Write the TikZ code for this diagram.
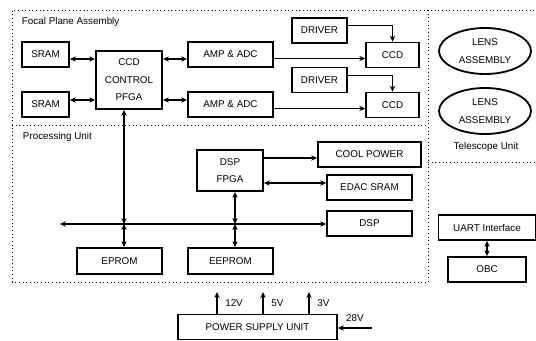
\documentclass[tikz,border=0pt]{standalone}
\usepackage{fontspec}
\setmainfont{Liberation Sans}
\usetikzlibrary{shapes.geometric, arrows.meta, positioning, calc}

\newlength{\pu}
\setlength{\pu}{0.025cm}

\begin{document}
\begin{tikzpicture}[
        x=\pu, y=-\pu,
        font=\fontsize{7}{12.5}\selectfont,
        box/.style={rectangle, draw, line width=1.3pt, align=center, inner sep=0pt},
        size/.style 2 args={minimum width=#1*\pu, minimum height=#2*\pu},
        lens/.style={ellipse, draw, line width=1.3pt, align=center, inner sep=0pt},
        link/.style={line width=1.1pt},
        zone/.style={line width=0.6pt, dotted},
        >={Stealth[length=4.2pt, width=3.8pt]}
    ]
    \useasboundingbox (0,0) rectangle (536,340);

    % dotted unit borders
    \draw[zone] (12,282) -- (12,10) -- (536,10);
    \draw[zone] (12,125) -- (428,125);
    \draw[zone] (428,10) -- (428,282) -- (12,282);
    \draw[zone] (428,162) -- (536,162);

    \node[anchor=west] (fpa) at (17,22) {Focal Plane Assembly};
    \node[anchor=west] (pu) at (18,137) {Processing Unit};
    \node (tu) at (486,147) {Telescope Unit};

    % focal plane assembly
    \node (sramA) [box, size={47}{25}] at (45.5,54.5) {SRAM};
    \node (sramB) [box, size={47}{25}] at (45.5,104.5) {SRAM};
    \node (ctrl) [box, size={66}{58}] at (129,80) {CCD\\CONTROL\\PFGA};
    \node (ampA) [box, size={85}{25}] at (230.5,54.5) {AMP \& ADC};
    \node (ampB) [box, size={85}{25}] at (230.5,104.5) {AMP \& ADC};
    \node (drvA) [box, size={55}{25}] at (319.5,30.5) {DRIVER};
    \node (drvB) [box, size={55}{25}] at (319.5,80) {DRIVER};
    \node (ccdA) [box, size={53}{25}] at (392.5,55) {CCD};
    \node (ccdB) [box, size={53}{25}] at (392.5,105) {CCD};

    % telescope unit
    \node (lensA) [lens, minimum width=92*\pu, minimum height=46*\pu] at (485,51) {LENS\\ASSEMBLY};
    \node (lensB) [lens, minimum width=92*\pu, minimum height=46*\pu] at (485,111) {LENS\\ASSEMBLY};

    % processing unit
    \node (fpga) [box, size={66}{41}] at (230,170.5) {DSP\\FPGA};
    \node (cool) [box, size={103}{25}] at (369.5,154.5) {COOL POWER};
    \node (edac) [box, size={85}{25}] at (369.5,187.5) {EDAC SRAM};
    \node (dsp) [box, size={85}{25}] at (369.5,223.5) {DSP};
    \node (eprom) [box, size={85}{26}] at (119.5,261) {EPROM};
    \node (eeprom) [box, size={85}{26}] at (230.5,261) {EEPROM};

    \node (uart) [box, size={97}{25}] at (487,227.5) {UART Interface};
    \node (obc) [box, size={78}{25}] at (487,269.5) {OBC};
    \node (psu) [box, size={159}{25}] at (257.5,327) {POWER SUPPLY UNIT};

    % rows and columns of the links
    \coordinate (rowA) at (0,59);
    \coordinate (rowB) at (0,100);
    \coordinate (ccdrowA) at (0,58.5);
    \coordinate (ccdrowB) at (0,108.5);
    \coordinate (drvrowA) at (0,25.5);
    \coordinate (drvrowB) at (0,75.5);
    \coordinate (busL) at (60,224);
    \coordinate (busx) at (124,0);
    \coordinate (fpgax) at (235,0);
    \coordinate (in28) at (372,328);

    \draw[link, <->] (sramA.east |- rowA) -- (ctrl.west |- rowA);
    \draw[link, <->] (sramB.east |- rowB) -- (ctrl.west |- rowB);
    \draw[link, <->] (ctrl.east |- rowA) -- (ampA.west |- rowA);
    \draw[link, <->] (ctrl.east |- rowB) -- (ampB.west |- rowB);
    \draw[link, ->] (ampA.east |- ccdrowA) -- (ccdA.west |- ccdrowA);
    \draw[link, ->] (ampB.east |- ccdrowB) -- (ccdB.west |- ccdrowB);
    \draw[link, ->] (drvA.east |- drvrowA) -| (ccdA.north);
    \draw[link, ->] (drvB.east |- drvrowB) -| (ccdB.north);

    % bus
    \draw[link, <->] (busL) -- (dsp.west |- busL);
    \draw[link, <->] (ctrl.south -| busx) -- (busL -| busx);
    \draw[link, <->] (busL -| busx) -- (eprom.north -| busx);
    \draw[link, <->] (fpga.south -| fpgax) -- (busL -| fpgax);
    \draw[link, <->] (busL -| fpgax) -- (eeprom.north -| fpgax);

    \draw[link, ->] (fpga.east |- 0,158) -- (cool.west |- 0,158);
    \draw[link, <->] (fpga.east |- 0,183) -- (edac.west |- 0,183);

    \draw[link, <->] (uart.south) -- (obc.north);

    % power lines
    \foreach \px/\volt in {217/12V, 263/5V, 309/3V}
        \draw[link, ->] (psu.north -| \px,0) -- (\px,292) node[midway, right, xshift=2pt] {\volt};
    \draw[link, ->] (in28) -- (psu.east |- in28) node[midway, above, yshift=1pt] {28V};

\end{tikzpicture}
\end{document}
